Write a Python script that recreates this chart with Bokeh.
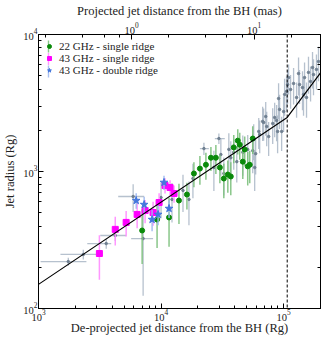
import numpy as np
from bokeh.plotting import figure
from bokeh.models import (LogAxis, Range1d, LogScale, Span, Legend, LegendItem,
                          CustomJSTickFormatter, BoxAnnotation)
from bokeh.embed import file_html
from bokeh.resources import INLINE

# ---------------- data ----------------
# gray points: de-projected distance (Rg), radius (Rg), radius error
gray_x = [1750, 2320, 3570, 4230, 5920, 7140,
          10000, 12280, 15100, 16890, 18200, 22370, 26980, 29640, 30760, 32520,
          35730, 37070, 39190, 41490, 46450, 50950, 55980, 57020, 59160, 58080,
          62660, 63830, 67450, 68710, 71450, 72780, 75510, 81470, 84530, 87700,
          89340, 91000, 92700, 96350, 100000, 101900, 105700, 107800, 109800,
          114000, 120600, 127600, 132400, 134900, 142600, 145400, 148200, 153800,
          159600, 165900, 172200, 175400, 185400, 192600]
gray_y = [220, 248, 298, 341, 657, 324,
          646, 625, 727, 625, 889, 1470, 1070, 1740, 1330, 967,
          1450, 1260, 1380, 1180, 1380, 1450, 1420, 1710, 1350, 1070,
          1960, 1860, 2320, 2280, 2520, 2130, 1800, 2240, 2480, 2360,
          1960, 3410, 2840, 1960, 2740, 3650, 3840, 4310, 4850,
          3970, 4390, 3470, 5190, 4310, 4100, 3650, 4850, 3470,
          5290, 4540, 5740, 5100, 5560, 6350]
gray_yerr = [15, 20, 25, 30, 150, 200,
             190, 200, 220, 220, 250, 150, 350, 150, 400, 300,
             450, 400, 350, 350, 450, 400, 450, 500, 400, 350,
             500, 500, 650, 600, 700, 600, 500, 650, 700, 700,
             600, 1000, 800, 550, 800, 1100, 1100, 1200, 1200,
             1100, 1300, 1000, 1600, 1200, 1300, 1100, 1400, 1000,
             1600, 1300, 1700, 1500, 1600, 1800]
# gray points that also carry horizontal error bars
grayh_y = [220, 248, 298, 341, 657, 324, 1470, 1740]
grayh_xlo = [1040, 1510, 2500, 3190, 4470, 5700, 20750, 27480]
grayh_xhi = [2460, 2960, 3920, 5190, 7280, 8610, 24550, 33110]

# 22 GHz - single ridge
g22_x = [7010, 9280, 11620, 14000, 16260, 18540, 20750, 23230, 25520, 28010, 30200,
         32520, 35060, 37070, 39190, 42270, 43870, 46450, 48170, 50950, 52920, 55980]
g22_y = [371, 446, 462, 614, 679, 967, 1050, 1120, 1260, 1260, 1070,
         889, 951, 920, 1500, 1680, 1570, 1180, 1450, 1090, 1120, 1740]
g22_err = [160, 170, 180, 200, 150, 200, 250, 250, 250, 300, 250,
           250, 250, 250, 350, 350, 350, 300, 350, 300, 300, 400]

# 43 GHz - single ridge
s43_x = [3140, 4230, 5190, 6380, 7410, 8610, 9640, 10780, 11840, 12760]
s43_y = [252, 378, 425, 486, 519, 502, 594, 791, 764, 691]
s43_err = [90, 90, 90, 100, 100, 100, 100, 100, 100, 100]

# 43 GHz - double ridge
d43_x = [6270, 7280, 8450, 9460, 10570, 11620]
d43_y = [614, 574, 446, 486, 832, 537]
d43_err = [80, 80, 80, 80, 100, 80]

# broken power-law fit and break position
fit_x = [1000, 107000, 200000]
fit_y = [150, 2480, 5240]
break_x = 107000

rg_per_mas = 5750  # conversion for the top axis
x_range = (1000, 200000)
y_range = (100, 10000)

# ---------------- plot ----------------
FONT = "Liberation Serif"
TXT = "#222222"
FW, FH = 282, 274

p = figure(frame_width=FW, frame_height=FH,
           x_axis_type="log", y_axis_type="log",
           x_range=x_range, y_range=y_range,
           output_backend="svg", toolbar_location=None,
           min_border_left=31, min_border_right=3, min_border_top=27, min_border_bottom=30)
p.xgrid.visible = False
p.ygrid.visible = False
p.outline_line_color = "black"
p.outline_line_width = 1
p.background_fill_color = "white"
p.border_fill_color = "white"

bottom = p.below[0]
left = p.left[0]

p.extra_x_ranges = {"mas": Range1d(x_range[0] / rg_per_mas, x_range[1] / rg_per_mas)}
p.extra_x_scales = {"mas": LogScale()}
top = LogAxis(x_range_name="mas", axis_label="Projected jet distance from the BH (mas)")
p.add_layout(top, "above")
right = LogAxis(formatter=CustomJSTickFormatter(code="return ''"))
p.add_layout(right, "right")

bottom.axis_label = "De-projected jet distance from the BH (Rg)"
left.axis_label = "Jet radius (Rg)"

for ax in [bottom, left, top, right]:
    ax.major_tick_in = 5
    ax.major_tick_out = 0
    ax.minor_tick_in = 3
    ax.minor_tick_out = 0
    ax.major_tick_line_color = "black"
    ax.minor_tick_line_color = "black"
    ax.axis_line_color = "black"
    ax.major_label_text_font = FONT
    ax.major_label_text_color = TXT
    ax.major_label_text_font_size = "10.5px"
    ax.axis_label_text_font = FONT
    ax.axis_label_text_font_style = "normal"
    ax.axis_label_text_color = TXT
    ax.axis_label_text_font_size = "12.5px"
    ax.axis_label_standoff = 1
    ax.major_label_standoff = 1
left.axis_label_standoff = 3
bottom.major_label_standoff = 1
bottom.axis_label_standoff = -3
top.major_label_standoff = 1
top.axis_label_standoff = 2
right.major_label_standoff = 0
right.axis_label_standoff = 0

# gray points
gx = np.array(gray_x, float); gy = np.array(gray_y, float); ge = np.array(gray_yerr, float)
p.segment(gx, gy - ge, gx, gy + ge, line_color="#a9b6c6", line_width=1.3, line_alpha=0.85)
p.segment(grayh_xlo, grayh_y, grayh_xhi, grayh_y, line_color="#a9b6c6", line_width=1.3, line_alpha=0.85)
p.scatter(gx, gy, marker="circle", size=2.5, fill_color="#6f7f90", line_color="#6f7f90")

# 22 GHz
x = np.array(g22_x, float); y = np.array(g22_y, float); e = np.array(g22_err, float)
p.segment(x, y - e, x, y + e, line_color="#7cc07c", line_width=1.5, line_alpha=0.9)
g_pts = p.scatter(x, y, marker="circle", size=5, fill_color="#0a8a0a", line_color="#0a8a0a")

# 43 GHz single
x = np.array(s43_x, float); y = np.array(s43_y, float); e = np.array(s43_err, float)
p.segment(x, y - e, x, y + e, line_color="#ff8cff", line_width=1.5, line_alpha=0.9)
s_pts = p.scatter(x, y, marker="square", size=6, fill_color="#ff00ff", line_color="#ff00ff")

# 43 GHz double
x = np.array(d43_x, float); y = np.array(d43_y, float); e = np.array(d43_err, float)
p.segment(x, y - e, x, y + e, line_color="#9fb8f0", line_width=1.5, line_alpha=0.9)
d_pts = p.scatter(x, y, marker="star", size=8, fill_color="#4477dd", line_color="#4477dd")

# fit and break
p.line(fit_x, fit_y, line_color="black", line_width=1.2)
p.add_layout(Span(location=break_x, dimension="height", line_color="black",
                  line_dash="3 2", line_width=1))

# vertical error-bar strokes behind the legend markers (screen units)
bar_colors = ["#7cc07c", "#ff8cff", "#9fb8f0"]
for i, c in enumerate(bar_colors):
    cy = FH - 12 - 12.5 * i
    p.add_layout(BoxAnnotation(left=9.3, right=10.7, bottom=cy - 6, top=cy + 6,
                               left_units="screen", right_units="screen",
                               bottom_units="screen", top_units="screen",
                               fill_color=c, fill_alpha=0.9, line_alpha=0))

legend = Legend(items=[
    LegendItem(label="22 GHz - single ridge", renderers=[g_pts]),
    LegendItem(label="43 GHz - single ridge", renderers=[s_pts]),
    LegendItem(label="43 GHz - double ridge", renderers=[d_pts]),
], location="top_left")
legend.background_fill_alpha = 0
legend.border_line_alpha = 0
legend.margin = 4
legend.padding = 2
legend.spacing = 0
legend.glyph_width = 10
legend.glyph_height = 12
legend.label_height = 12
legend.label_standoff = 5
legend.label_text_font = FONT
legend.label_text_font_size = "11px"
legend.label_text_color = TXT
p.add_layout(legend)

open("out.html", "w").write(file_html(p, INLINE))
